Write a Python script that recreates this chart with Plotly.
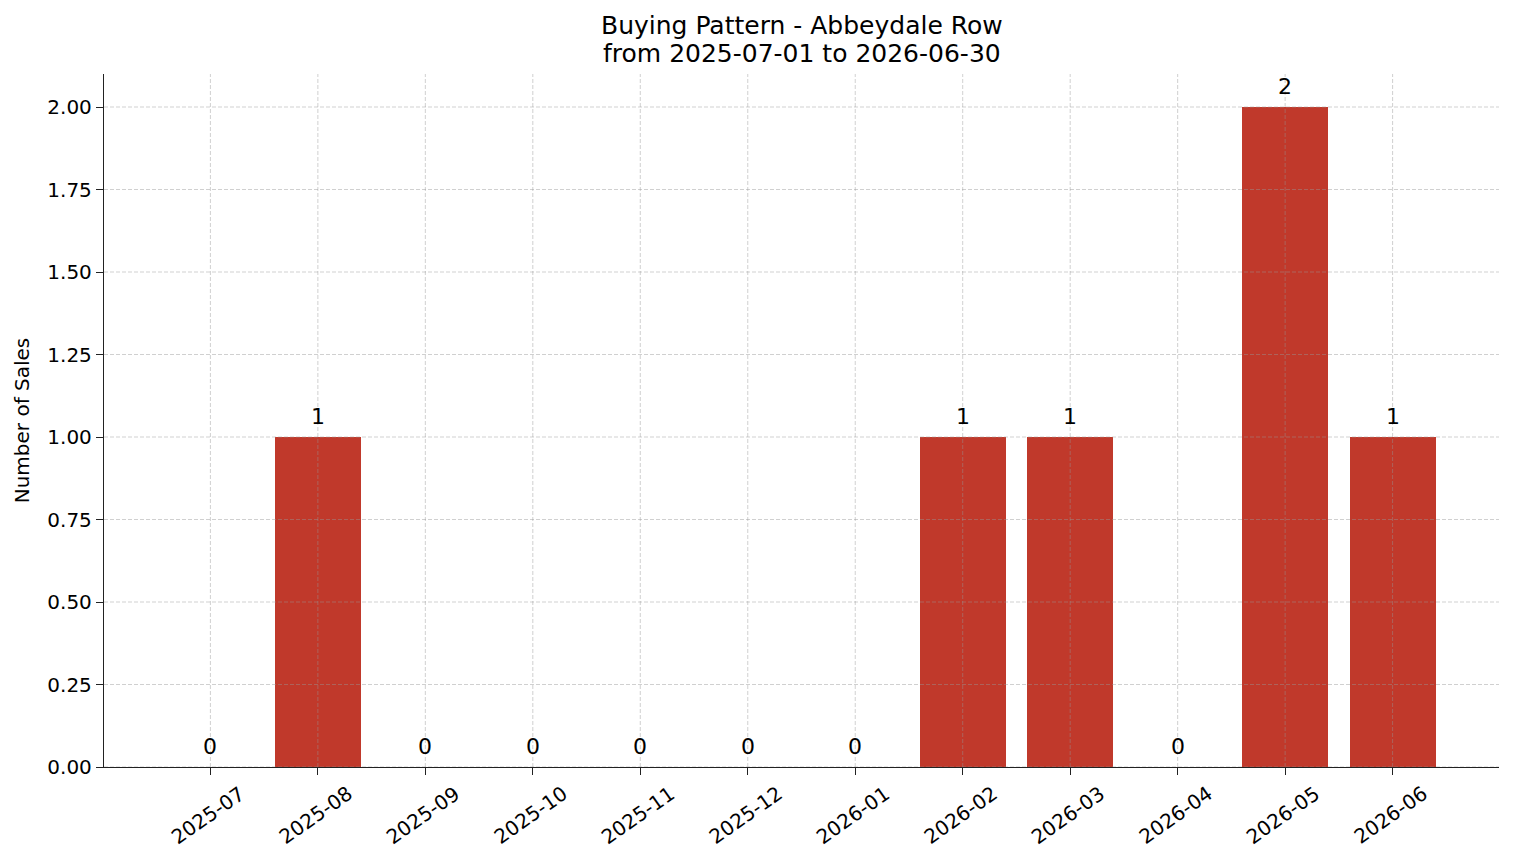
import plotly.graph_objects as go

months = ["2025-07", "2025-08", "2025-09", "2025-10", "2025-11", "2025-12",
          "2026-01", "2026-02", "2026-03", "2026-04", "2026-05", "2026-06"]
sales = [0, 1, 0, 0, 0, 0, 0, 1, 1, 0, 2, 1]
y_ticks = [0, 0.25, 0.5, 0.75, 1.0, 1.25, 1.5, 1.75, 2.0]
title_lines = ["Buying Pattern - Abbeydale Row", "from 2025-07-01 to 2026-06-30"]

FONT = "DejaVu Sans"
BAR_COLOR = "#c0392b"
GRID = "rgba(150,150,150,0.45)"

xpos = list(range(len(months)))

fig = go.Figure()
fig.add_trace(go.Bar(x=xpos, y=sales, width=0.8, marker=dict(color=BAR_COLOR, line=dict(width=0)),
                     hoverinfo="skip"))

shapes = []
for yt in y_ticks:
    shapes.append(dict(type="line", xref="paper", yref="y", x0=0, x1=1, y0=yt, y1=yt,
                       line=dict(color=GRID, width=1, dash="4px,2px"), layer="above"))
for xp in xpos:
    shapes.append(dict(type="line", xref="x", yref="paper", x0=xp, x1=xp, y0=0, y1=1,
                       line=dict(color=GRID, width=1, dash="4px,2px"), layer="above"))

annotations = []
for xp, v in zip(xpos, sales):
    annotations.append(dict(x=xp, y=v, xref="x", yref="y", text=str(v), showarrow=False,
                            yanchor="bottom", xanchor="center", yshift=6,
                            font=dict(family=FONT, size=22, color="black")))
for xp, m in zip(xpos, months):
    annotations.append(dict(x=xp, y=0, xref="x", yref="paper", text=m, showarrow=False,
                            textangle=-35, xanchor="center", yanchor="middle",
                            yshift=-48, xshift=-2,
                            font=dict(family=FONT, size=20, color="black")))
for i, line in enumerate(title_lines):
    annotations.append(dict(x=0.5, y=1, xref="paper", yref="paper", text=line, showarrow=False,
                            xanchor="center", yanchor="middle", yshift=49 - 28 * i,
                            font=dict(family=FONT, size=25, color="black")))

fig.update_layout(
    width=1514, height=863,
    margin=dict(l=104, r=15, t=74, b=96),
    paper_bgcolor="white", plot_bgcolor="white",
    showlegend=False,
    font=dict(family=FONT, size=20, color="black"),
    shapes=shapes,
    annotations=annotations,
    bargap=0,
)
fig.update_xaxes(range=[-0.99, 11.99], tickvals=xpos, ticktext=[""] * len(xpos),
                 showgrid=False, zeroline=False, showline=True, linecolor="#222",
                 linewidth=1.3, ticks="outside", ticklen=7, tickwidth=1.3, tickcolor="#222")
fig.update_yaxes(range=[0, 2.1], tickvals=y_ticks, tickformat=".2f",
                 showgrid=False, zeroline=False, showline=True, linecolor="#222",
                 linewidth=1.3, ticks="outside", ticklen=7, tickwidth=1.3, tickcolor="#222",
                 tickfont=dict(family=FONT, size=20, color="black"),
                 title=dict(text="Number of Sales", standoff=12,
                            font=dict(family=FONT, size=20, color="black")))

fig.write_html("out.html")
